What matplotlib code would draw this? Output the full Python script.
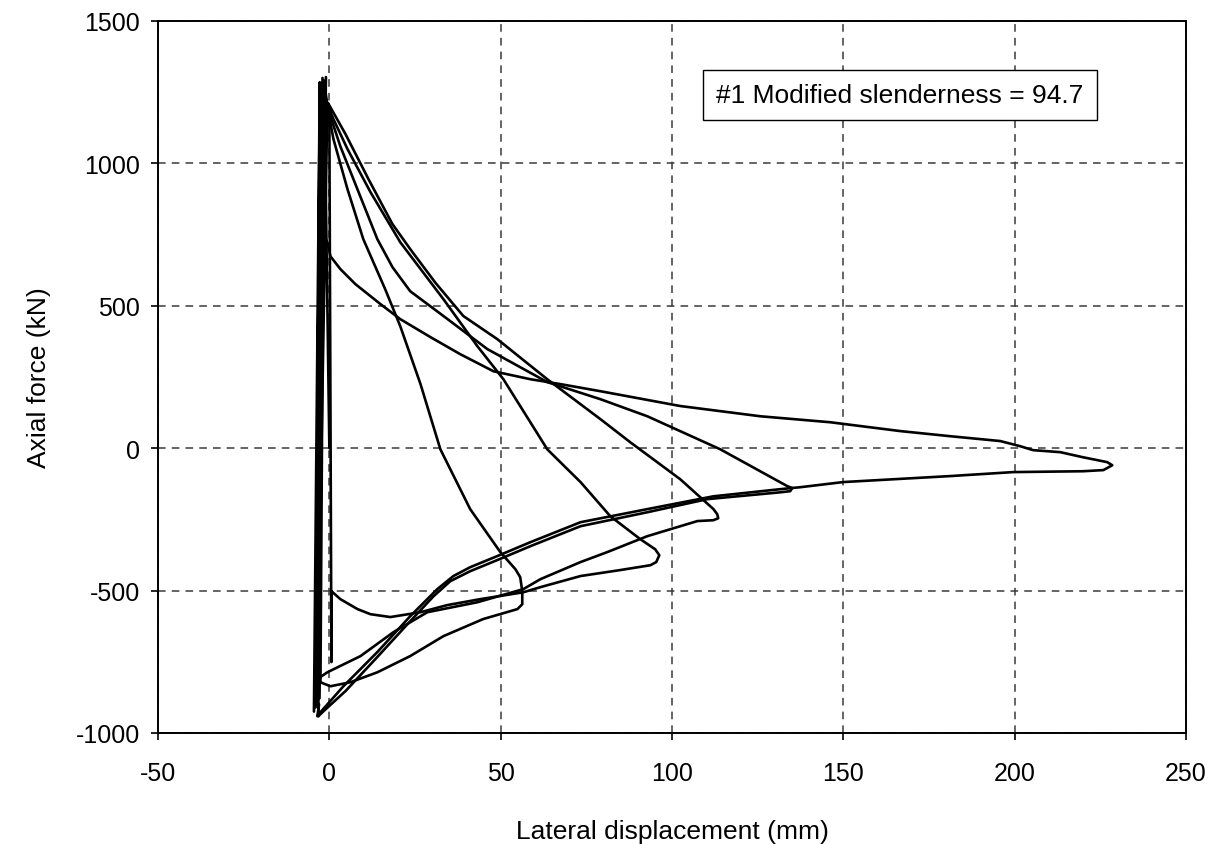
import matplotlib
matplotlib.use("Agg")
import matplotlib.pyplot as plt

plt.rcParams['font.family'] = ['Liberation Sans', 'DejaVu Sans']
plt.rcParams['axes.unicode_minus'] = False

# elastic cycles before buckling (near-vertical bundle)
elastic_x = [0.0, -1.5, -3.0, -2.0, -4.0, -2.8, -4.5, -1.0, -3.6, -0.6]
elastic_y = [0, 1290, -880, 1300, -910, 1285, -925, 1303, -900, 1190]

# cycle 1: buckling to ~56 mm, back in tension
c1_x = [-0.6, -0.3, 1.2, 5.3, 9.9, 16.3, 20.7, 26.6, 32.4, 41.1, 49.9, 54.3, 55.7, 56.3,
        56.3, 54.9, 44.9, 33.3, 23.6, 14.0, 6.1, 0.3, -2.6]
c1_y = [1190, 1180, 1085, 909, 734, 558, 428, 225, -4, -214, -365, -425, -453, -502,
        -548, -565, -600, -660, -730, -787, -822, -836, -822]

# cycle 2: to ~96 mm
c2_x = [-2.6, -1.5, -0.6, 1.2, 5.3, 12.0, 20.7, 33.3, 43.2, 50.8, 63.6, 73.3, 82.0, 90.8,
        95.1, 96.3, 95.4, 93.7, 84.9, 73.3, 61.6, 56.6, 44.1, 34.4, 26.6, 17.8, 12.0,
        8.2, 3.2, 0.6, 0.6, 0.0, -0.3]
c2_y = [-822, 1280, 1208, 1155, 1050, 899, 723, 523, 358, 242, -4, -119, -239, -320,
        -355, -376, -400, -411, -428, -449, -488, -506, -530, -551, -576, -593, -583,
        -565, -530, -502, -751, 1150, 1210]

# cycle 3: to ~113 mm
c3_x = [-0.3, 4.7, 11.4, 18.4, 23.6, 31.0, 39.1, 49.0, 63.6, 79.1, 87.8, 102.4, 112.1,
        113.2, 113.5, 112.1, 107.4, 92.8, 81.1, 73.3, 61.6, 56.6, 43.2, 28.6, 18.7, 9.1,
        -0.6, -3.5]
c3_y = [1210, 1103, 945, 787, 699, 580, 464, 383, 242, 102, 21, -109, -214, -232, -246,
        -253, -256, -309, -365, -400, -460, -495, -541, -576, -646, -730, -787, -811]

# cycle 4: to ~135 mm
c4_x = [-3.5, -1.8, -0.3, 0.3, 3.2, 8.2, 14.0, 18.4, 23.6, 33.3, 46.1, 63.6, 79.1, 92.8,
        114.1, 133.6, 135.1, 134.5, 131.6, 110.3, 92.8, 73.3, 58.7, 49.0, 41.1, 35.3,
        30.4, 22.8, 13.4, 4.7, -2.0, -3.2]
c4_y = [-811, 1270, 1183, 1166, 1060, 909, 734, 636, 551, 464, 348, 232, 172, 112, -4,
        -133, -140, -151, -155, -179, -225, -274, -344, -393, -432, -467, -520, -618,
        -741, -853, -927, -941]

# cycle 5: to ~228 mm
c5_x = [-3.2, -2.8, -2.0, -0.5, 0.3, 3.2, 7.6, 14.9, 20.7, 29.5, 38.2, 47.9, 58.7, 67.4,
        79.1, 102.4, 125.8, 146.2, 166.6, 181.2, 195.8, 201.6, 205.4, 213.3, 220.0, 227.0,
        228.5, 225.9, 220.0, 199.6, 181.2, 150.0, 137.5, 131.6, 112.1, 92.8, 73.3, 58.7,
        49.0, 41.1, 36.2, 31.5, 23.6, 14.0, 4.1, -2.6, -3.5, -3.0]
c5_y = [-941, 740, 760, 720, 674, 629, 576, 506, 453, 390, 330, 270, 242, 225, 200, 148,
        112, 91, 60, 42, 25, 7, -7, -14, -32, -49, -60, -77, -81, -84, -98, -119, -137,
        -144, -169, -214, -260, -330, -379, -418, -449, -495, -590, -716, -836, -927,
        -941, -900]

cycles = [(elastic_x, elastic_y), (c1_x, c1_y), (c2_x, c2_y), (c3_x, c3_y),
          (c4_x, c4_y), (c5_x, c5_y)]

fig = plt.figure(figsize=(12.12, 8.45), dpi=100)
ax = fig.add_axes([0.1304, 0.1314, 0.8481, 0.8426])

for xs, ys in cycles:
    ax.plot(xs, ys, color='black', lw=1.9, solid_joinstyle='round', solid_capstyle='round')

ax.set_xlim(-50, 250)
ax.set_ylim(-1000, 1500)
ax.set_xticks(range(-50, 251, 50))
ax.set_yticks(range(-1000, 1501, 500))
ax.grid(True, color='#3a3a3a', lw=1.1, linestyle=(0, (5.0, 4.0)))
ax.set_axisbelow(True)

for sp in ax.spines.values():
    sp.set_linewidth(1.4)
    sp.set_color('black')

ax.tick_params(axis='both', direction='out', length=5, width=1.2, labelsize=18)
ax.tick_params(axis='x', pad=15)
ax.tick_params(axis='y', pad=8)

ax.set_xlabel('Lateral displacement (mm)', fontsize=19, labelpad=25)
ax.set_ylabel('Axial force (kN)', fontsize=19, labelpad=18)

ax.text(166.6, 1241, '#1 Modified slenderness = 94.7', fontsize=19,
        ha='center', va='center',
        bbox=dict(boxstyle='square,pad=0.5', facecolor='white', edgecolor='black', lw=1.0))

fig.savefig('out.png', dpi=100)
